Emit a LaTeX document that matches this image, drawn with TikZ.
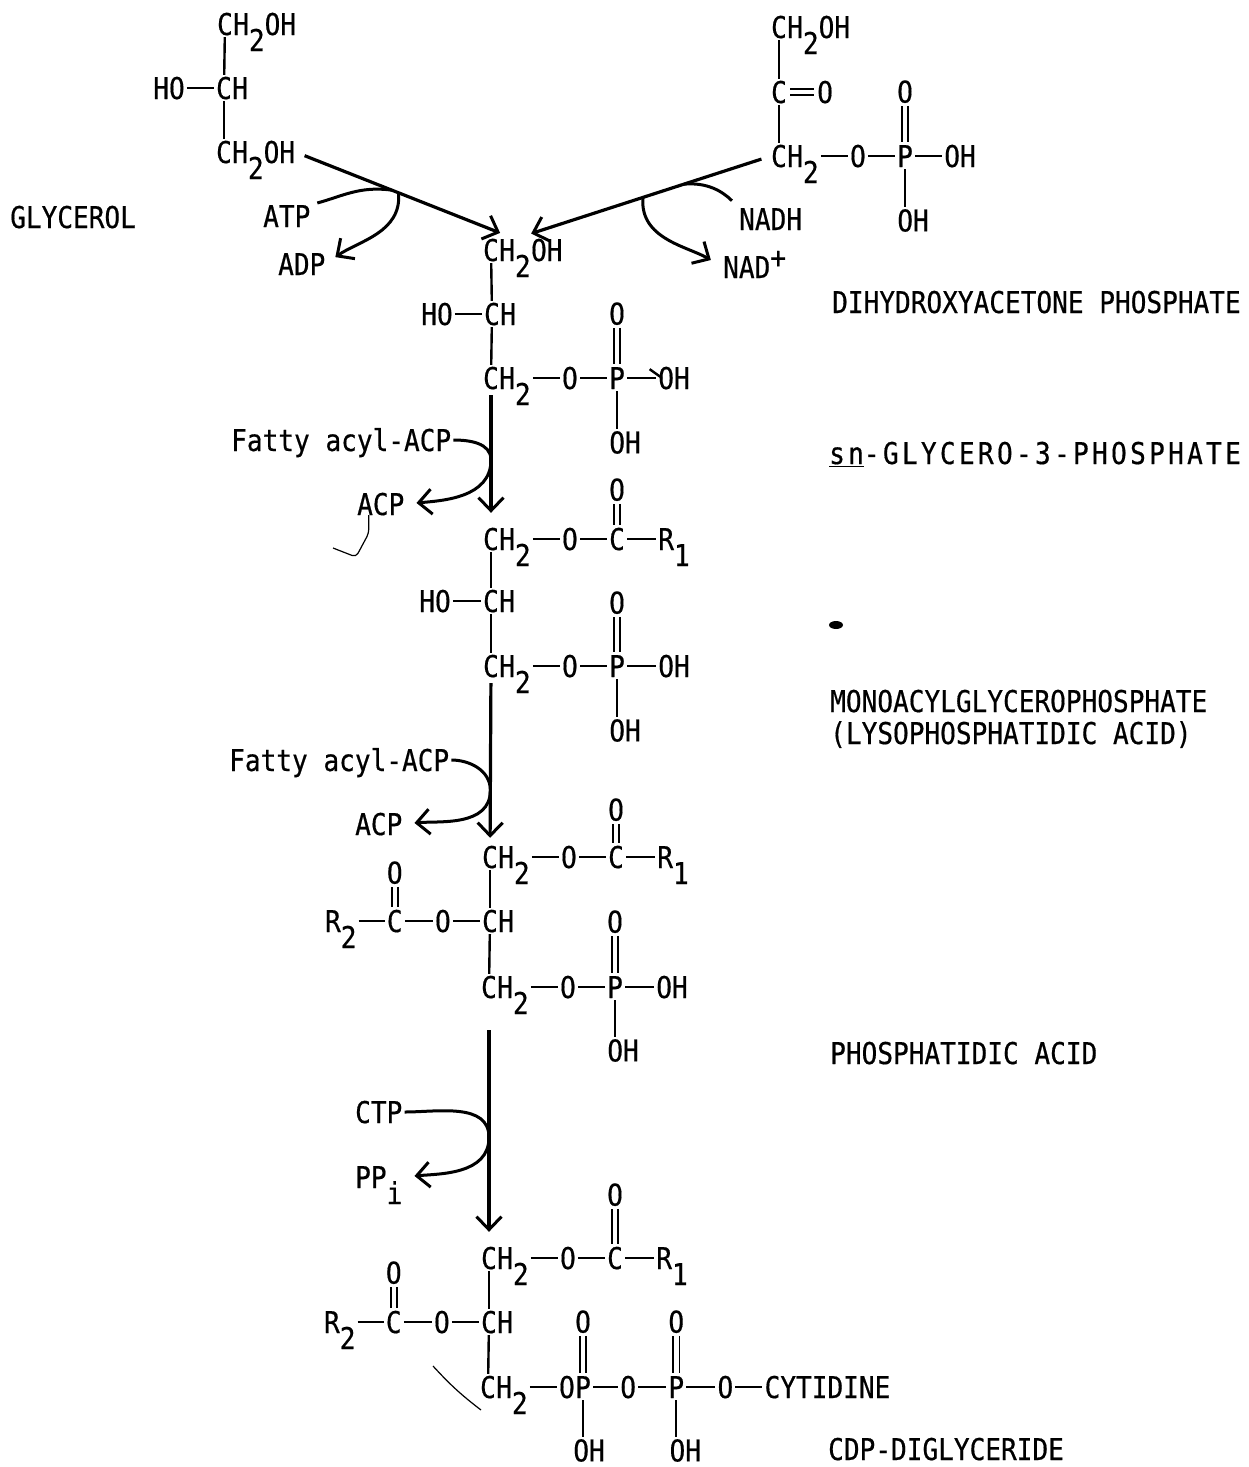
\documentclass[tikz,border=0pt]{standalone}
\usepackage{fontspec}
\newfontfamily\tw[FakeStretch=0.87,FakeBold=0.5]{DejaVu Sans Mono}
\newfontfamily\twsp[FakeStretch=0.87,FakeBold=0.5,LetterSpace=11]{DejaVu Sans Mono}
\newcommand{\lo}[1]{\raisebox{-16pt}{#1}}
\usetikzlibrary{arrows.meta, positioning}

\begin{document}
\begin{tikzpicture}[
  x=1pt, y=-1pt,
  atom/.style={inner sep=0pt, text height=22pt, text depth=0pt, font={\tw\fontsize{30}{32}\selectfont}},
  compound/.style={atom, anchor=west},
  bond/.style={line width=2.4pt, shorten >=2pt, shorten <=2pt},
  dbl/.style={double, double distance=4.5pt, line width=1.8pt, shorten >=3pt, shorten <=3pt},
  arrow/.style={-{Straight Barb[length=13pt,width=25pt,line width=3pt]}, line width=3.2pt},
  curve/.style={line width=3pt},
  scribble/.style={line width=1.2pt, rounded corners=4pt}
]
\useasboundingbox (0,0) rectangle (1248,1467);

\node[atom] (g1c) at (225,24) {C};
\node[atom, right=0pt of g1c] (g1h) {H\lo{2}OH};
\node[atom] (g2c) at (224,88) {C};
\node[atom, right=0pt of g2c] (g2h) {H};
\node[atom, left=31pt of g2c] (g2o) {HO};
\node[atom] (g3c) at (224,152) {C};
\node[atom, right=0pt of g3c] (g3h) {H\lo{2}OH};
\draw[bond] (g1c) -- (g2c);
\draw[bond] (g2c) -- (g3c);
\draw[bond] (g2o) -- (g2c);

\node[atom] (d1c) at (779,27) {C};
\node[atom, right=0pt of d1c] (d1h) {H\lo{2}OH};
\node[atom] (d2c) at (779,92) {C};
\node[atom, right=30pt of d2c] (d2o) {O};
\node[atom] (d3c) at (779,156) {C};
\node[atom, right=0pt of d3c] (d3h) {H\lo{2}};
\node[atom, right=31pt of d3h] (d3o) {O};
\node[atom, right=31pt of d3o] (d3p) {P};
\node[atom, right=31pt of d3p] (d3q) {OH};
\node[atom, above=42pt of d3p] (d3d) {O};
\node[atom, below=42pt of d3p, xshift=8pt] (d3e) {OH};
\draw[bond] (d1c) -- (d2c);
\draw[bond] (d2c) -- (d3c);
\draw[dbl] (d2c) -- (d2o);
\draw[bond] (d3h) -- (d3o);
\draw[bond] (d3o) -- (d3p);
\draw[bond] (d3p) -- (d3q);
\draw[dbl] (d3d) -- (d3p);
\draw[bond] (d3p.south) -- (d3e.north -| d3p);

\node[compound] (gly) at (10,217) {GLYCEROL};
\node[compound] (atp) at (263,216) {ATP};
\node[compound] (adp) at (278,264) {ADP};
\node[compound] (nadh) at (739,219) {NADH};
\node[compound] (nad) at (723,267) {NAD\raisebox{10pt}{+}};
\node[compound] (dhap) at (832,302) {DIHYDROXYACETONE PHOSPHATE};

\node[atom] (s1c) at (491,250) {C};
\node[atom, right=0pt of s1c] (s1h) {H\lo{2}};
\node[atom, right=0pt of s1h] (s1o) {OH};
\node[atom] (s2c) at (492,314) {C};
\node[atom, right=0pt of s2c] (s2h) {H};
\node[atom, left=31pt of s2c] (s2o) {HO};
\node[atom] (s3c) at (491,378) {C};
\node[atom, right=0pt of s3c] (s3h) {H\lo{2}};
\node[atom, right=31pt of s3h] (s3o) {O};
\node[atom, right=31pt of s3o] (s3p) {P};
\node[atom, right=33pt of s3p] (s3q) {OH};
\node[atom, above=42pt of s3p] (s3d) {O};
\node[atom, below=42pt of s3p, xshift=8pt] (s3e) {OH};
\draw[bond] (s1c) -- (s2c);
\draw[bond] (s2c) -- (s3c);
\draw[bond] (s2o) -- (s2c);
\draw[bond] (s3h) -- (s3o);
\draw[bond] (s3o) -- (s3p);
\draw[bond] (s3p) -- (s3q);
\draw[dbl] (s3d) -- (s3p);
\draw[bond] (s3p.south) -- (s3e.north -| s3p);

\draw[arrow, shorten <=10pt, shorten >=16pt] (g3h.east) -- coordinate[pos=.44] (gj1) coordinate[pos=.47] (gj2) (s1h.north);
\draw[arrow, shorten <=10pt, shorten >=17pt] (d3c.west) -- coordinate[pos=.34] (dj1) coordinate[pos=.50] (dj2) (s1h.north);
\draw[curve, shorten <=7pt] (atp.north east) to[out=15,in=172] (gj1);
\draw[curve, arrow, line width=3pt, shorten >=12pt] (gj2) to[out=-85,in=35] (adp.east);
\draw[curve, shorten <=10pt] (nadh.north west) to[out=135,in=5] (dj1);
\draw[curve, arrow, line width=3pt, shorten >=14pt] (dj2) to[out=-95,in=150] (nad.west);

\node[compound] (sn) at (829,453) {\twsp\underline{sn}-GLYCERO-3-PHOSPHATE};
\node[compound] (fa1) at (231,440) {Fatty acyl-ACP};
\node[compound] (acp1) at (357,504) {ACP};

\node[atom] (m1c) at (491,539) {C};
\node[atom, right=0pt of m1c] (m1h) {H\lo{2}};
\node[atom, right=31pt of m1h] (m1o) {O};
\node[atom, right=31pt of m1o] (m1k) {C};
\node[atom, right=33pt of m1k] (m1r) {R\lo{1}};
\node[atom, above=27pt of m1k] (m1d) {O};
\node[atom] (m2c) at (491,601) {C};
\node[atom, right=0pt of m2c] (m2h) {H};
\node[atom, left=32pt of m2c] (m2o) {HO};
\node[atom] (m3c) at (491,666) {C};
\node[atom, right=0pt of m3c] (m3h) {H\lo{2}};
\node[atom, right=31pt of m3h] (m3o) {O};
\node[atom, right=31pt of m3o] (m3p) {P};
\node[atom, right=33pt of m3p] (m3q) {OH};
\node[atom, above=41pt of m3p] (m3d) {O};
\node[atom, below=42pt of m3p, xshift=8pt] (m3e) {OH};
\draw[bond] (m1c) -- (m2c);
\draw[bond] (m2c) -- (m3c);
\draw[bond] (m2o) -- (m2c);
\draw[bond] (m1h) -- (m1o);
\draw[bond] (m1o) -- (m1k);
\draw[bond] (m1k) -- (m1r);
\draw[dbl] (m1d) -- (m1k);
\draw[bond] (m3h) -- (m3o);
\draw[bond] (m3o) -- (m3p);
\draw[bond] (m3p) -- (m3q);
\draw[dbl] (m3d) -- (m3p);
\draw[bond] (m3p.south) -- (m3e.north -| m3p);

\draw[arrow, shorten <=6pt, shorten >=15pt] (s3c) -- coordinate[pos=.51] (j1) (m1c);
\draw[curve, arrow, line width=3pt, shorten <=2pt, shorten >=12pt] (fa1.east) to[out=0,in=90] (j1) to[out=-90,in=5] (acp1.east);

\node[compound] (lyso) at (830,701) {MONOACYLGLYCEROPHOSPHATE};
\node[compound] (lysob) at (830,733) {(LYSOPHOSPHATIDIC ACID)};
\node[compound] (fa2) at (229,760) {Fatty acyl-ACP};
\node[compound] (acp2) at (355,824) {ACP};

\node[atom] (p1c) at (490,857) {C};
\node[atom, right=0pt of p1c] (p1h) {H\lo{2}};
\node[atom, right=31pt of p1h] (p1o) {O};
\node[atom, right=31pt of p1o] (p1k) {C};
\node[atom, right=33pt of p1k] (p1r) {R\lo{1}};
\node[atom, above=25pt of p1k] (p1d) {O};
\node[atom] (p2c) at (490,921) {C};
\node[atom, right=0pt of p2c] (p2h) {H};
\node[atom, left=31pt of p2c] (p2o) {O};
\node[atom, left=32pt of p2o] (p2k) {C};
\node[atom, left=30pt of p2k] (p2r) {R\lo{2}};
\node[atom, above=26pt of p2k] (p2d) {O};
\node[atom] (p3c) at (489,987) {C};
\node[atom, right=0pt of p3c] (p3h) {H\lo{2}};
\node[atom, right=31pt of p3h] (p3o) {O};
\node[atom, right=31pt of p3o] (p3p) {P};
\node[atom, right=33pt of p3p] (p3q) {OH};
\node[atom, above=43pt of p3p] (p3d) {O};
\node[atom, below=41pt of p3p, xshift=8pt] (p3e) {OH};
\draw[bond] (p1c) -- (p2c);
\draw[bond] (p2c) -- (p3c);
\draw[bond] (p1h) -- (p1o);
\draw[bond] (p1o) -- (p1k);
\draw[bond] (p1k) -- (p1r);
\draw[dbl] (p1d) -- (p1k);
\draw[bond] (p2r) -- (p2k);
\draw[bond] (p2k) -- (p2o);
\draw[bond] (p2o) -- (p2c);
\draw[dbl] (p2d) -- (p2k);
\draw[bond] (p3h) -- (p3o);
\draw[bond] (p3o) -- (p3p);
\draw[bond] (p3p) -- (p3q);
\draw[dbl] (p3d) -- (p3p);
\draw[bond] (p3p.south) -- (p3e.north -| p3p);

\draw[arrow, shorten <=6pt, shorten >=8pt] (m3c) -- coordinate[pos=.67] (j2) (p1c);
\draw[curve, arrow, line width=3pt, shorten <=2pt, shorten >=12pt] (fa2.east) to[out=0,in=90] (j2) to[out=-90,in=5] (acp2.east);

\node[compound] (pa) at (830,1053) {PHOSPHATIDIC ACID};
\node[compound] (ctp) at (355,1112) {CTP};
\node[compound] (ppi) at (355,1177) {PP\lo{i}};

\node[atom] (c1c) at (489,1258) {C};
\node[atom, right=0pt of c1c] (c1h) {H\lo{2}};
\node[atom, right=31pt of c1h] (c1o) {O};
\node[atom, right=31pt of c1o] (c1k) {C};
\node[atom, right=33pt of c1k] (c1r) {R\lo{1}};
\node[atom, above=41pt of c1k] (c1d) {O};
\node[atom] (c2c) at (489,1322) {C};
\node[atom, right=0pt of c2c] (c2h) {H};
\node[atom, left=31pt of c2c] (c2o) {O};
\node[atom, left=32pt of c2o] (c2k) {C};
\node[atom, left=30pt of c2k] (c2r) {R\lo{2}};
\node[atom, above=27pt of c2k] (c2d) {O};
\node[atom] (c3c) at (488,1387) {C};
\node[atom, right=0pt of c3c] (c3h) {H\lo{2}};
\node[atom, right=31pt of c3h] (c3o) {O};
\node[atom, right=0pt of c3o] (c3p) {P};
\node[atom, right=29pt of c3p] (c3a) {O};
\node[atom, right=32pt of c3a] (c3b) {P};
\node[atom, right=33pt of c3b] (c3f) {O};
\node[compound, right=31pt of c3f] (cyt) {CYTIDINE};
\node[atom, above=43pt of c3p] (c3u) {O};
\node[atom, above=43pt of c3b] (c3v) {O};
\node[atom, below=41pt of c3p, xshift=6pt] (c3w) {OH};
\node[atom, below=41pt of c3b, xshift=9pt] (c3x) {OH};
\draw[bond] (c1c) -- (c2c);
\draw[bond] (c2c) -- (c3c);
\draw[bond] (c1h) -- (c1o);
\draw[bond] (c1o) -- (c1k);
\draw[bond] (c1k) -- (c1r);
\draw[dbl] (c1d) -- (c1k);
\draw[bond] (c2r) -- (c2k);
\draw[bond] (c2k) -- (c2o);
\draw[bond] (c2o) -- (c2c);
\draw[dbl] (c2d) -- (c2k);
\draw[bond] (c3h) -- (c3o);
\draw[bond] (c3p) -- (c3a);
\draw[bond] (c3a) -- (c3b);
\draw[bond] (c3b) -- (c3f);
\draw[bond] (c3f) -- (cyt);
\draw[dbl] (c3u) -- (c3p);
\draw[dbl] (c3v) -- (c3b);
\draw[bond] (c3p.south) -- (c3w.north -| c3p);
\draw[bond] (c3b.south) -- (c3x.north -| c3b);

\draw[arrow, shorten <=32pt, shorten >=15pt] (p3c) -- coordinate[pos=.56] (j3) (c1c);
\draw[curve, arrow, line width=3pt, shorten <=2pt, shorten >=12pt] (ctp.east) to[out=0,in=90] (j3) to[out=-90,in=5] (ppi.east);

\node[compound] (cdp) at (828,1449) {CDP-DIGLYCERIDE};

\draw[scribble] ([xshift=-12pt]acp1.south) -- ++(0,18) -- (356,557) -- (333,548);
\coordinate (scr1) at (433,1366);
\coordinate (scr2) at (481,1410);
\draw[scribble] (scr1) to[bend right=5] (scr2);
\draw[bond] (648,368) -- (662,378);
\fill (836,625) ellipse (7 and 4);

\end{tikzpicture}
\end{document}
